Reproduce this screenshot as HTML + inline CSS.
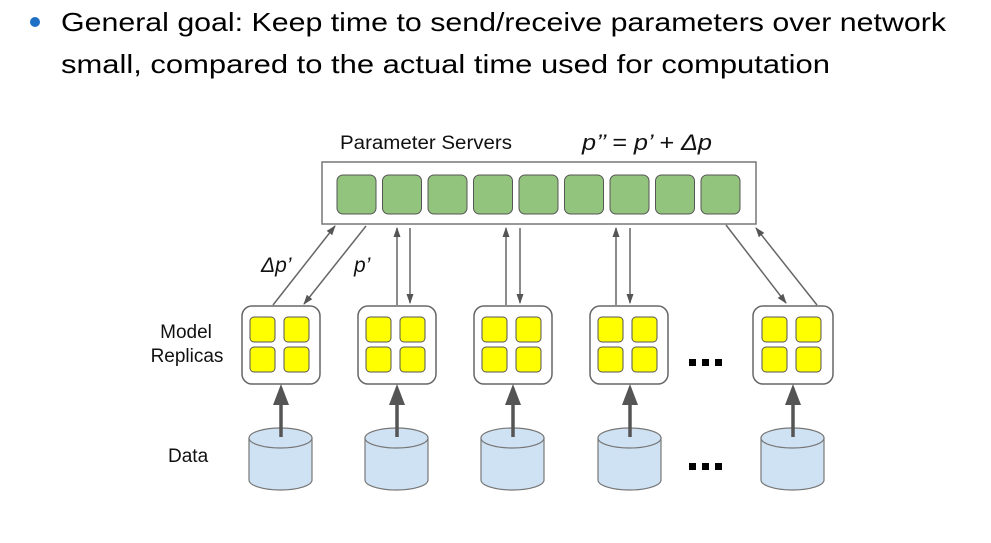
<!DOCTYPE html>
<html><head><meta charset="utf-8"><style>
html,body{margin:0;padding:0;background:#fff;width:991px;height:543px;overflow:hidden}
svg{display:block}
</style></head><body>
<svg width="991" height="543" viewBox="0 0 991 543" xmlns="http://www.w3.org/2000/svg">
<defs>
<marker id="a" markerWidth="10" markerHeight="10" refX="9" refY="5" orient="auto" markerUnits="userSpaceOnUse">
<path d="M0,1.5 L10,5 L0,8.5 Z" fill="#555"/>
</marker>
</defs>
<circle cx="35" cy="22" r="5" fill="#1f6fc4"/>
<g font-family="Liberation Sans, sans-serif" font-size="26" fill="#000">
<text x="61" y="31" textLength="885" lengthAdjust="spacingAndGlyphs">General goal: Keep time to send/receive parameters over network</text>
<text x="61" y="73" textLength="769" lengthAdjust="spacingAndGlyphs">small, compared to the actual time used for computation</text>
</g>
<g font-family="Liberation Sans, sans-serif" fill="#111">
<text x="340" y="149" font-size="19" textLength="172" lengthAdjust="spacingAndGlyphs">Parameter Servers</text>
<text x="582" y="150" font-size="22" font-style="italic" textLength="130" lengthAdjust="spacingAndGlyphs">p’’ = p’ + Δp</text>
<text x="261" y="272" font-size="21" font-style="italic">Δp’</text>
<text x="354" y="272" font-size="21" font-style="italic">p’</text>
<text x="186" y="338" font-size="19" text-anchor="middle">Model</text>
<text x="187" y="362" font-size="19" text-anchor="middle">Replicas</text>
<text x="168" y="462" font-size="19">Data</text>
</g>
<rect x="322" y="162" width="434" height="62" fill="#fff" stroke="#777" stroke-width="1.5"/>
<g fill="#93c47d" stroke="#555" stroke-width="1">
<rect x="337" y="175" width="39" height="39" rx="6"/>
<rect x="382.5" y="175" width="39" height="39" rx="6"/>
<rect x="428" y="175" width="39" height="39" rx="6"/>
<rect x="473.5" y="175" width="39" height="39" rx="6"/>
<rect x="519" y="175" width="39" height="39" rx="6"/>
<rect x="564.5" y="175" width="39" height="39" rx="6"/>
<rect x="610" y="175" width="39" height="39" rx="6"/>
<rect x="655.5" y="175" width="39" height="39" rx="6"/>
<rect x="701" y="175" width="39" height="39" rx="6"/>
</g>
<g stroke="#666" stroke-width="1.5" fill="none" marker-end="url(#a)">
<line x1="273" y1="305" x2="335" y2="226"/>
<line x1="366" y1="226" x2="304" y2="304"/>
<line x1="397" y1="305" x2="397" y2="228"/>
<line x1="410" y1="228" x2="410" y2="303"/>
<line x1="506" y1="305" x2="506" y2="228"/>
<line x1="520" y1="228" x2="520" y2="303"/>
<line x1="616" y1="305" x2="616" y2="228"/>
<line x1="630" y1="228" x2="630" y2="303"/>
<line x1="726" y1="225" x2="786" y2="303"/>
<line x1="817" y1="305" x2="756" y2="228"/>
</g>
<g stroke="#666" stroke-width="1.5" fill="#fff">
<rect x="242" y="306" width="78" height="78" rx="10"/>
<rect x="358" y="306" width="78" height="78" rx="10"/>
<rect x="474" y="306" width="78" height="78" rx="10"/>
<rect x="590" y="306" width="78" height="78" rx="10"/>
<rect x="753" y="306" width="80" height="78" rx="10"/>
</g>
<g fill="#ffff00" stroke="#555" stroke-width="1">
<rect x="250" y="317" width="25" height="25" rx="4"/><rect x="284" y="317" width="25" height="25" rx="4"/><rect x="250" y="347" width="25" height="25" rx="4"/><rect x="284" y="347" width="25" height="25" rx="4"/>
<rect x="366" y="317" width="25" height="25" rx="4"/><rect x="400" y="317" width="25" height="25" rx="4"/><rect x="366" y="347" width="25" height="25" rx="4"/><rect x="400" y="347" width="25" height="25" rx="4"/>
<rect x="482" y="317" width="25" height="25" rx="4"/><rect x="516" y="317" width="25" height="25" rx="4"/><rect x="482" y="347" width="25" height="25" rx="4"/><rect x="516" y="347" width="25" height="25" rx="4"/>
<rect x="598" y="317" width="25" height="25" rx="4"/><rect x="632" y="317" width="25" height="25" rx="4"/><rect x="598" y="347" width="25" height="25" rx="4"/><rect x="632" y="347" width="25" height="25" rx="4"/>
<rect x="762" y="317" width="25" height="25" rx="4"/><rect x="796" y="317" width="25" height="25" rx="4"/><rect x="762" y="347" width="25" height="25" rx="4"/><rect x="796" y="347" width="25" height="25" rx="4"/>
</g>
<g fill="#000">
<rect x="689" y="359" width="7" height="7"/><rect x="702" y="359" width="7" height="7"/><rect x="715" y="359" width="7" height="7"/>
<rect x="689" y="463" width="7" height="7"/><rect x="702" y="463" width="7" height="7"/><rect x="715" y="463" width="7" height="7"/>
</g>
<g stroke="#777" stroke-width="1.2" fill="#cfe2f3">
<path d="M249,438 L249,480 A31.5,10 0 0 0 312,480 L312,438 Z"/><ellipse cx="280.5" cy="438" rx="31.5" ry="10"/>
<path d="M365,438 L365,480 A31.5,10 0 0 0 428,480 L428,438 Z"/><ellipse cx="396.5" cy="438" rx="31.5" ry="10"/>
<path d="M481,438 L481,480 A31.5,10 0 0 0 544,480 L544,438 Z"/><ellipse cx="512.5" cy="438" rx="31.5" ry="10"/>
<path d="M598,438 L598,480 A31.5,10 0 0 0 661,480 L661,438 Z"/><ellipse cx="629.5" cy="438" rx="31.5" ry="10"/>
<path d="M761,438 L761,480 A31.5,10 0 0 0 824,480 L824,438 Z"/><ellipse cx="792.5" cy="438" rx="31.5" ry="10"/>
</g>
<g stroke="#555" stroke-width="3.5">
<line x1="281" y1="437" x2="281" y2="402"/><line x1="397" y1="437" x2="397" y2="402"/><line x1="513" y1="437" x2="513" y2="402"/><line x1="630" y1="437" x2="630" y2="402"/><line x1="793" y1="437" x2="793" y2="402"/>
</g>
<g fill="#555">
<path d="M281,384 L289,405 L273,405 Z"/><path d="M397,384 L405,405 L389,405 Z"/><path d="M513,384 L521,405 L505,405 Z"/><path d="M630,384 L638,405 L622,405 Z"/><path d="M793,384 L801,405 L785,405 Z"/>
</g>
</svg>
</body></html>
